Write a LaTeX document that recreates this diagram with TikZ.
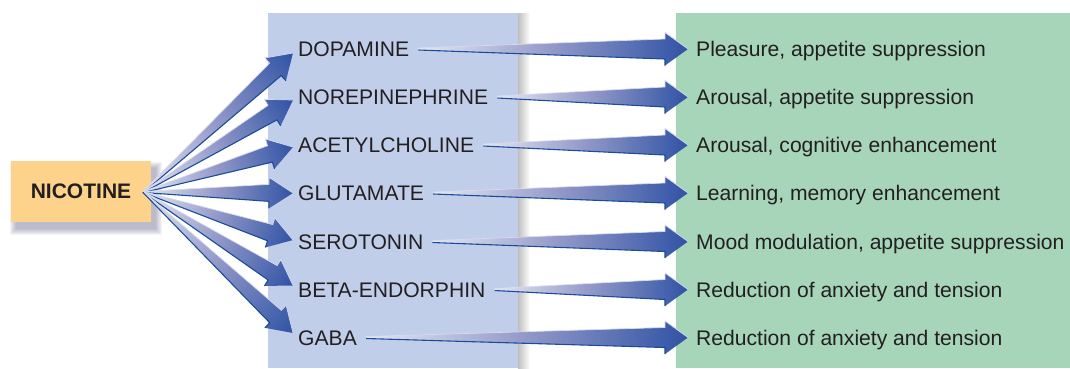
\documentclass[tikz,border=0pt]{standalone}
\usepackage{fontspec}
\setmainfont{Liberation Sans}
\usetikzlibrary{calc}
\definecolor{nicfill}{HTML}{FDD38C}
\definecolor{bluepanel}{HTML}{C0CEE9}
\definecolor{greenpanel}{HTML}{A7D5B9}
\definecolor{arrlight}{HTML}{E6E7F2}
\definecolor{arrmid}{HTML}{9198C8}
\definecolor{arrdark}{HTML}{3053A5}
\definecolor{arredge}{HTML}{1A4C9C}
\definecolor{arrhi}{HTML}{D8DBEE}
\definecolor{txt}{HTML}{231F20}
% #1 tail coordinate, #2 tip coordinate, #3 tail half-width, #4 shaft half-width at head,
% #5 head half-width, #6 head length
\newcommand\fatarrow[6]{%
  \pgfpointdiff{\pgfpointanchor{#1}{center}}{\pgfpointanchor{#2}{center}}%
  \pgfgetlastxy{\fadx}{\fady}%
  \pgfmathsetmacro\faang{atan2(\fady,\fadx)}%
  \pgfmathsetmacro\falen{veclen(\fadx,\fady)}%
  \pgfmathsetmacro\fab{\falen-#6}%
  \pgfpointanchor{#1}{center}\pgfgetlastxy{\fasx}{\fasy}%
  \begin{scope}[transform canvas={shift={(\fasx,\fasy)},rotate=\faang}]
    \shade[left color=arrlight, right color=arrdark, middle color=arrmid]
      (0pt,#3pt) -- (\fab pt,#4pt) -- (\fab pt,#5pt) -- (\falen pt,0pt)
      -- (\fab pt,-#5pt) -- (\fab pt,-#4pt) -- (0pt,-#3pt) -- cycle;
    \draw[arrhi, line width=0.7pt, line join=miter]
      (0pt,#3pt) -- (\fab pt,#4pt) -- (\fab pt,#5pt) -- (\falen pt,0pt);
    \draw[arredge, line width=1.1pt, line join=miter]
      (0pt,-#3pt) -- (\fab pt,-#4pt) -- (\fab pt,-#5pt);
  \end{scope}}
\tikzset{
  lefttxt/.style={anchor=west, inner sep=0pt, text=txt, font=\fontsize{21.1}{25}\selectfont,
    text height=15.1pt, text depth=0pt},
  righttxt/.style={lefttxt},
  nicbox/.style={fill=nicfill, minimum width=140pt, minimum height=61pt, inner sep=0pt,
    text=txt, font=\fontsize{21}{25}\selectfont\bfseries},
}
\begin{document}
\begin{tikzpicture}[x=1pt, y=-1pt]
\useasboundingbox (0,0) rectangle (1070,368);
% panels
\fill[bluepanel] (268,13) rectangle (518,368);
\shade[left color=black!25, right color=white] (518,13) rectangle (530,368);
\fill[greenpanel] (676,13) rectangle (1070,368);
% nicotine shadow
\foreach \i in {0,...,6}{
  \fill[black!80!blue, opacity=0.045] (11+5-\i,161+7-\i) rectangle (151+5+\i,222+7+\i);
}
\node[nicbox] (nic) at (81,191.5) {NICOTINE};
% left texts
\node[lefttxt] (dop) at (298,49)    {DOPAMINE};
\node[lefttxt] (nor) at (298,97)    {NOREPINEPHRINE};
\node[lefttxt] (ace) at (298,145)   {ACETYLCHOLINE};
\node[lefttxt] (glu) at (298,193)   {GLUTAMATE};
\node[lefttxt] (ser) at (298,241.5) {SEROTONIN};
\node[lefttxt] (bet) at (298,289.5) {BETA-ENDORPHIN};
\node[lefttxt] (gab) at (298,337.5) {GABA};
% right texts
\node[righttxt] (e1) at (696,49)    {Pleasure, appetite suppression};
\node[righttxt] (e2) at (696,97)    {Arousal, appetite suppression};
\node[righttxt] (e3) at (696,145)   {Arousal, cognitive enhancement};
\node[righttxt] (e4) at (696,193)   {Learning, memory enhancement};
\node[righttxt] (e5) at (696,241.5) {Mood modulation, appetite suppression};
\node[righttxt] (e6) at (696,289.5) {Reduction of anxiety and tension};
\node[righttxt] (e7) at (696,337.5) {Reduction of anxiety and tension};
% fan origin
\coordinate (fan) at ($(nic.east)+(-8,0.5)$);
% fan tips
\coordinate (f1) at ($(dop.west)+(-5,4)$);
\coordinate (f2) at ($(nor.west)+(-5,3)$);
\coordinate (f3) at ($(ace.west)+(-5,2)$);
\coordinate (f4) at ($(glu.west)+(-5,0)$);
\coordinate (f5) at ($(ser.west)+(-5,-1.5)$);
\coordinate (f6) at ($(bet.west)+(-5,-4)$);
\coordinate (f7) at ($(gab.west)+(-5,-4.5)$);
\foreach \t in {f1,f2,f3,f4,f5,f6,f7}{
  \fatarrow{fan}{\t}{0.5}{8.5}{15.5}{24}
}
% right arrows
\foreach \s/\e/\k in {dop/e1/1,nor/e2/2,ace/e3/3,glu/e4/4,ser/e5/5,bet/e6/6,gab/e7/7}{
  \coordinate (t\k) at ($(\s.east)+(9,0)$);
  \coordinate (h\k) at ($(\e.west)+(-8,0)$);
  \fatarrow{t\k}{h\k}{1}{10}{16.5}{23}
}
\end{tikzpicture}
\end{document}
